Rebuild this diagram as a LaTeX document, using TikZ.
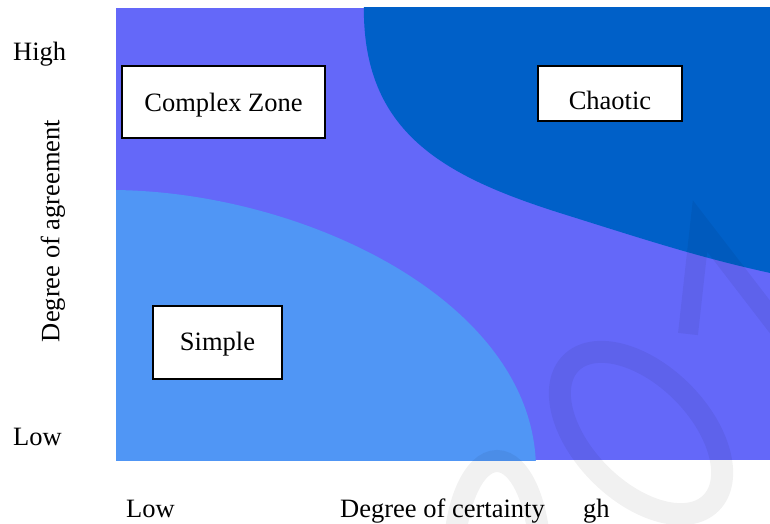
\documentclass[tikz,border=0pt]{standalone}
\usepackage{fontspec}
\setmainfont{Liberation Serif}
\definecolor{midblue}{RGB}{100,104,249}
\definecolor{chaosblue}{RGB}{0,96,200}
\definecolor{simpleblue}{RGB}{80,150,245}
\begin{document}
\begin{tikzpicture}[x=1pt,y=-1pt,
  labelfont/.style={font=\fontsize{26.5}{30}\selectfont},
  zonebox/.style={labelfont, draw=black, line width=1.8pt, fill=white,
    inner sep=0pt, text depth=0pt},
  axislabel/.style={labelfont, inner sep=0pt, anchor=base west},
  wmark/.style={draw=black, draw opacity=0.055, line width=22pt}
]
\useasboundingbox (0,0) rectangle (770,524);

% plot field
\fill[midblue] (116,8) rectangle (770,460);
\begin{scope}
  \clip (116,8) rectangle (770,460);
  % simple region, lower left
  \fill[simpleblue] (110,190) .. controls (300,190) and (536,300) .. (536,470)
    -- (110,470) -- cycle;
  % chaotic region, upper right
  \fill[chaosblue] (364,0) .. controls (360,130) and (440,175) .. (560,213)
    .. controls (640,238) and (700,258) .. (775,274)
    -- (775,0) -- cycle;
\end{scope}

% faint watermark strokes
\draw[wmark, rotate around={-45:(641,433)}] (641,433) ellipse [x radius=99, y radius=58];
\draw[wmark] (497,560) ellipse [x radius=43, y radius=99];
\draw[wmark, line width=20pt, line join=miter] (688,334) -- (700,226) -- (780,330);

% zone boxes
\node[zonebox, minimum width=203pt, minimum height=72pt, text height=18pt] (complex) at (223.5,102) {Complex Zone};
\node[zonebox, minimum width=144pt, minimum height=55pt, text height=33pt] (chaotic) at (610,93.5) {Chaotic};
\node[zonebox, minimum width=129pt, minimum height=73pt, text height=15pt] (simple) at (217.5,342.5) {Simple};

% vertical axis
\node[axislabel] (yhigh) at (13,61) {High};
\node[axislabel] (ylow) at (13,445) {Low};
\node[labelfont, inner sep=0pt, rotate=90] (ytitle) at (53,231) {Degree of agreement};

% horizontal axis
\node[axislabel] (xlow) at (126,517) {Low};
\node[axislabel] (xtitle) at (340,517) {Degree of certainty};
\node[axislabel] (xhigh) at (583,517) {gh};
\end{tikzpicture}
\end{document}
